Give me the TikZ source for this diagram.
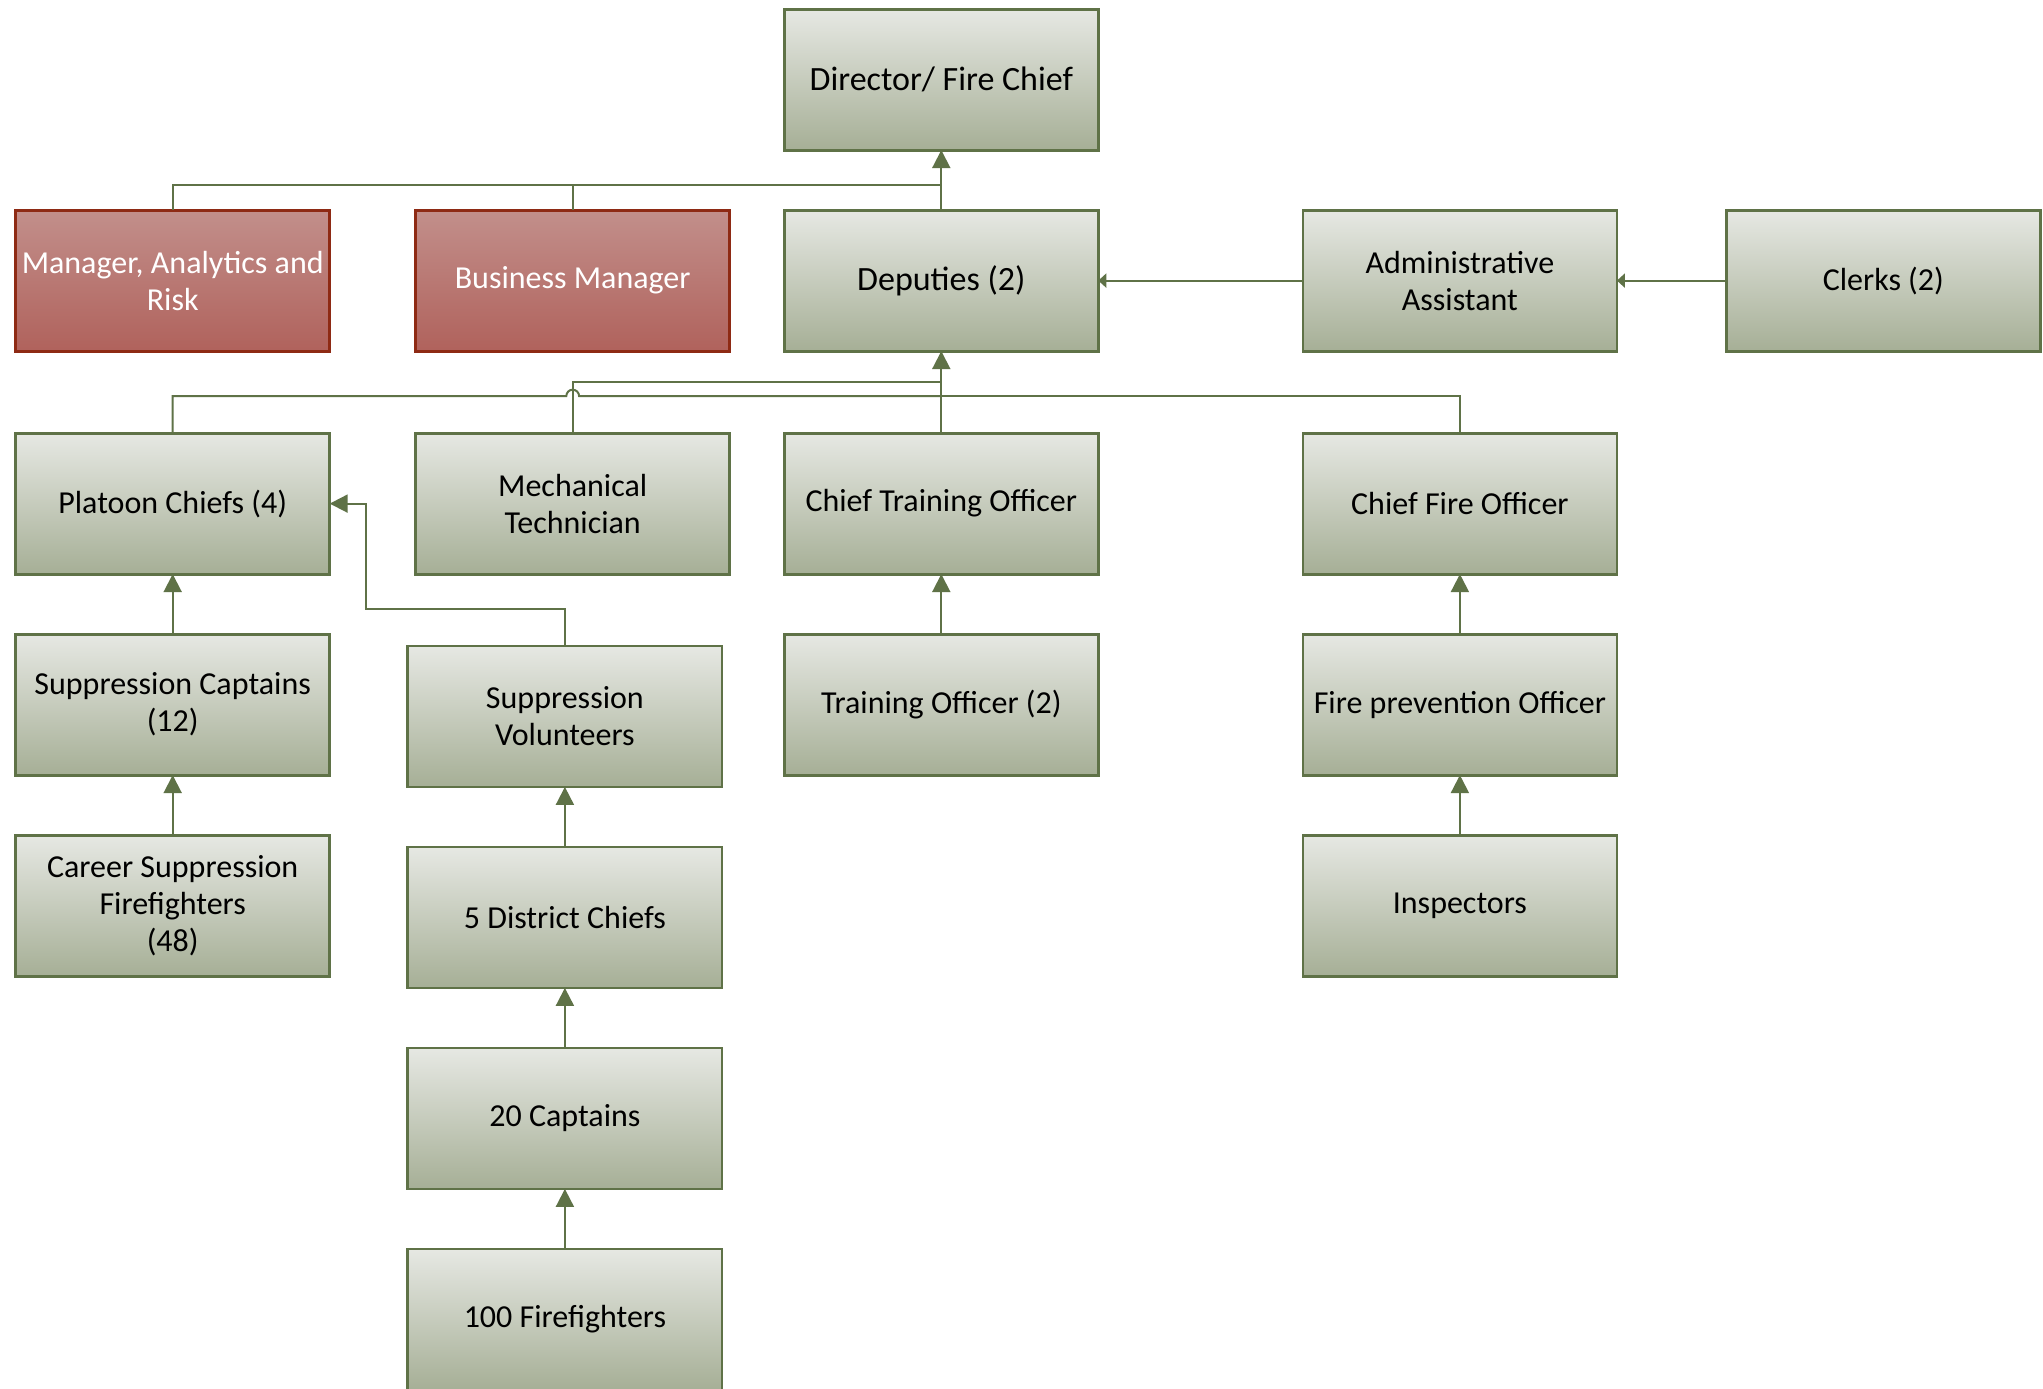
\documentclass[tikz,border=0pt]{standalone}
\usepackage{fontspec}
\setmainfont{Carlito}
\usetikzlibrary{arrows.meta,positioning,calc}
\definecolor{linegreen}{HTML}{5F7247}
\definecolor{boxtop}{HTML}{E6E8E3}
\definecolor{boxbot}{HTML}{A6AF96}
\definecolor{redline}{HTML}{8E2A14}
\definecolor{redtop}{HTML}{C28F8B}
\definecolor{redbot}{HTML}{B0625C}

\begin{document}
\begin{tikzpicture}[node distance=30pt, auto,]
  % Define style for boxes
  \tikzset{
   rank/.style={
           rectangle,
           draw=linegreen,
           line width=1.4pt,
           top color=boxtop,
           bottom color=boxbot,
           minimum width=157pt,
           minimum height=70.5pt,
           inner sep=2pt,
           outer sep=0pt,
           align=center,
           font=\fontsize{16}{18.5}\selectfont},
   staff/.style={
           rank,
           draw=redline,
           top color=redtop,
           bottom color=redbot,
           text=white},
   % Define connector styles
   wire/.style={
           draw=linegreen,
           line width=1pt},
   link/.style={
           wire,
           -{Triangle[width=9pt,length=9pt]}},
   feed/.style={
           wire,
           -{Triangle[width=7pt,length=4pt]}}
   }

  % page
  \path[fill=white, use as bounding box] (-470.65pt,39.8pt) rectangle (550.85pt,-654.2pt);

  % Chart
  \node[rank, font=\fontsize{17}{19}\selectfont] (dir) at (0,0) {Director/ Fire Chief};
  \node[rank, font=\fontsize{17}{19}\selectfont, below=30pt of dir] (dep) {Deputies (2)};
  \node[staff, left=27.3pt of dep] (bus) {Business Manager};
  \node[staff, left=43pt of bus] (mgr) {Manager, Analytics and\\Risk};
  \node[rank, right=102.3pt of dep] (adm) {Administrative\\Assistant};
  \node[rank, right=54.7pt of adm] (clk) {Clerks (2)};

  \node[rank, below=41pt of mgr] (plat) {Platoon Chiefs (4)};
  \node[rank, below=41pt of bus] (mech) {Mechanical\\Technician};
  \node[rank, below=41pt of dep] (cto) {Chief Training Officer};
  \node[rank, below=41pt of adm] (cfo) {Chief Fire Officer};

  \node[rank, below=of plat] (supcap) {Suppression Captains\\(12)};
  \node[rank, below=35.9pt of mech, xshift=-3.9pt] (supvol) {Suppression\\Volunteers};
  \node[rank, below=of cto] (tro) {Training Officer (2)};
  \node[rank, below=of cfo] (fpo) {Fire prevention Officer};

  \node[rank, below=of supcap] (career) {Career Suppression\\Firefighters\\(48)};
  \node[rank, below=of supvol] (dist) {5 District Chiefs};
  \node[rank, below=of fpo] (insp) {Inspectors};
  \node[rank, below=of dist] (capt) {20 Captains};
  \node[rank, below=of capt] (ff) {100 Firefighters};

  % bus lines
  \coordinate (topbus) at ($(dep.north)+(0,12.4pt)$);
  \coordinate (lowbus) at ($(cto.north)+(0,18.5pt)$);
  \coordinate (mechbus) at ($(cto.north)+(0,25.7pt)$);
  \coordinate (hop) at (mech.north |- lowbus);
  \coordinate (volbend) at ($(plat.east)+(18.2pt,0)$);

  \draw[link] (dep)--(dir);
  \draw[wire] (mgr.north) |- (topbus);
  \draw[wire] (bus.north) -- (bus.north |- topbus);
  \draw[feed] (adm)--(dep);
  \draw[feed] (clk)--(adm);

  \draw[link] (cto)--(dep);
  \draw[wire] (plat.north) |- ($(hop)+(-3.2pt,0)$)
     arc[start angle=180, end angle=0, radius=3.2pt] -- (lowbus);
  \draw[wire] (cfo.north) |- (lowbus);
  \draw[wire] (mech.north) |- (mechbus);

  \draw[link] (supcap)--(plat);
  \draw[link] (career)--(supcap);
  \draw[link] (supvol.north) -- ++(0,18.7pt) -| (volbend) -- (plat.east);
  \draw[link] (dist)--(supvol);
  \draw[link] (capt)--(dist);
  \draw[link] (ff)--(capt);
  \draw[link] (tro)--(cto);
  \draw[link] (fpo)--(cfo);
  \draw[link] (insp)--(fpo);
\end{tikzpicture}
\end{document}
